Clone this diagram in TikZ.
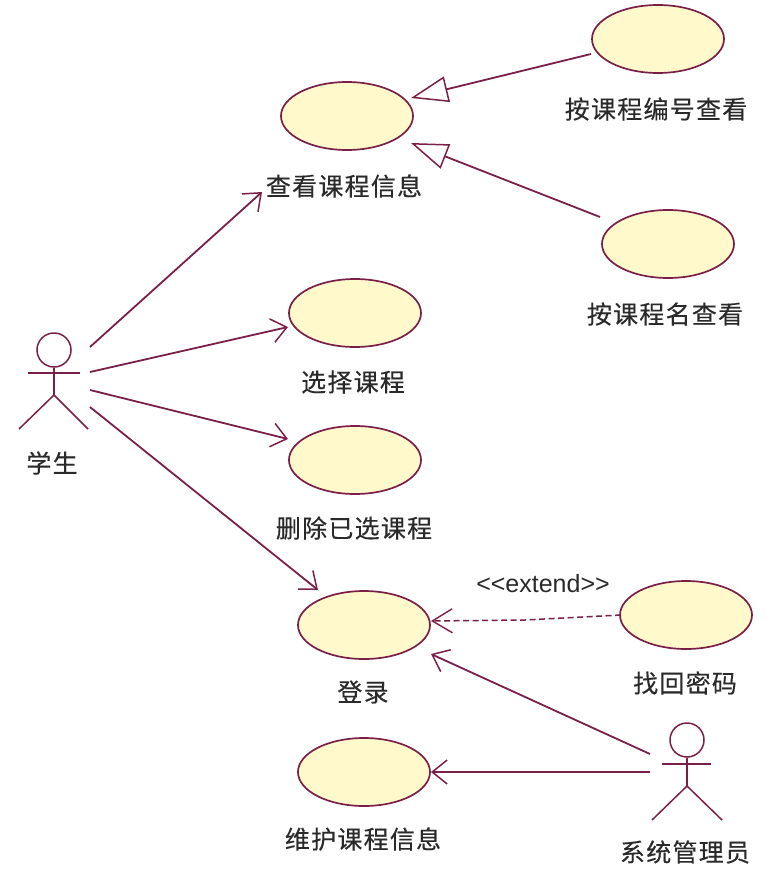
\documentclass[tikz,border=0pt]{standalone}
\usepackage{fontspec}
\usetikzlibrary{arrows.meta,shapes.geometric}
\setmainfont{Liberation Sans}
\newfontfamily\cjk[LetterSpace=5,FakeBold=0.25]{Noto Sans CJK SC}
\definecolor{umlline}{HTML}{7A2048}
\definecolor{umlfill}{HTML}{FFF9CC}
\definecolor{umltext}{HTML}{2A2A2A}
\tikzset{
  x=1pt,y=-1pt,
  usecase/.style={ellipse,draw=umlline,fill=umlfill,line width=1.7pt,minimum width=132pt,minimum height=68pt,inner sep=0pt},
  uclabel/.style={text=umltext,font=\fontsize{25pt}{27pt}\selectfont\cjk,inner sep=0pt,anchor=center},
  actorhead/.style={circle,draw=umlline,line width=1.5pt,minimum size=34pt,inner sep=0pt},
  actorline/.style={draw=umlline,line width=1.5pt},
  assoc/.style={draw=umlline,line width=1.8pt,-{Straight Barb[length=15pt,width=24pt,line width=1.5pt]}},
  extendline/.style={draw=umlline,line width=1.5pt,dash pattern=on 6pt off 3.5pt,-{Straight Barb[length=20pt,width=24pt,line width=1.4pt,sep=0pt]}},
  general/.style={draw=umlline,line width=1.8pt,-{Triangle[open,length=37pt,width=26pt,fill=white,line width=1.5pt]}}
}
\begin{document}
\begin{tikzpicture}
\useasboundingbox (0,0) rectangle (771,870);
% use cases
\node[usecase] (view)   at (347,116) {};
\node[usecase] (bynum)  at (658,39)  {};
\node[usecase] (byname) at (668,244) {};
\node[usecase] (choose) at (355,313) {};
\node[usecase] (drop)   at (355,460) {};
\node[usecase] (login)  at (364,625) {};
\node[usecase] (maint)  at (364,772) {};
\node[usecase] (recover) at (686,615) {};
% labels
\node[uclabel] (lview)   at (344,186) {查看课程信息};
\node[uclabel] (lbynum)  at (656,109) {按课程编号查看};
\node[uclabel] (lbyname) at (665,314) {按课程名查看};
\node[uclabel] (lchoose) at (353,382) {选择课程};
\node[uclabel] (ldrop)   at (354,528) {删除已选课程};
\node[uclabel] (llogin)  at (363,692) {登录};
\node[uclabel] (lmaint)  at (363,839) {维护课程信息};
\node[uclabel] (lrecover) at (685,683) {找回密码};
\node[uclabel] (lstudent) at (52,463) {学生};
\node[uclabel] (ladmin)  at (685,852) {系统管理员};
\node[text=umltext,font=\fontsize{25pt}{27pt}\selectfont,inner sep=0pt] (lextend) at (543,584) {<{}<extend>{}>};
% student actor
\node[actorhead] (student) at (54,350) {};
\coordinate (sArmL) at (28,373);
\coordinate (sArmR) at (80,373);
\coordinate (sHip) at (54,395);
\coordinate (sFootL) at (19,429);
\coordinate (sFootR) at (88,429);
\draw[actorline] (student.south) -- (sHip);
\draw[actorline] (sArmL) -- (sArmR);
\draw[actorline] (sFootL) -- (sHip) -- (sFootR);
% admin actor
\node[actorhead] (admin) at (687,740) {};
\coordinate (aArmL) at (662,764);
\coordinate (aArmR) at (711,764);
\coordinate (aHip) at (687,786);
\coordinate (aFootL) at (652,820);
\coordinate (aFootR) at (722,820);
\draw[actorline] (admin.south) -- (aHip);
\draw[actorline] (aArmL) -- (aArmR);
\draw[actorline] (aFootL) -- (aHip) -- (aFootR);
% connector ends
\coordinate (s1) at (90,347);
\coordinate (s2) at (90,372);
\coordinate (s3) at (90,390);
\coordinate (s4) at (90,407);
\coordinate (t1) at (262,192);
\coordinate (t2) at (288,327);
\coordinate (t3) at (288,439);
\coordinate (t4) at (318,590);
\coordinate (a1) at (650,754);
\coordinate (a2) at (650,772);
\coordinate (t5) at (431,654);
\coordinate (t6) at (431,772);
\coordinate (e0) at (621,615);
\coordinate (ek) at (525,620);
\coordinate (t7) at (431,621);
\coordinate (g1) at (591,54);
\coordinate (g2) at (600,217);
\coordinate (t8) at (411,98);
\coordinate (t9) at (411,143);
% connectors
\draw[assoc] (s1) -- (t1);
\draw[assoc] (s2) -- (t2);
\draw[assoc] (s3) -- (t3);
\draw[assoc] (s4) -- (t4);
\draw[assoc] (a1) -- (t5);
\draw[assoc] (a2) -- (t6);
\draw[extendline] (e0) -- (ek) -- (t7);
\draw[general] (g1) -- (t8);
\draw[general] (g2) -- (t9);
\end{tikzpicture}
\end{document}
